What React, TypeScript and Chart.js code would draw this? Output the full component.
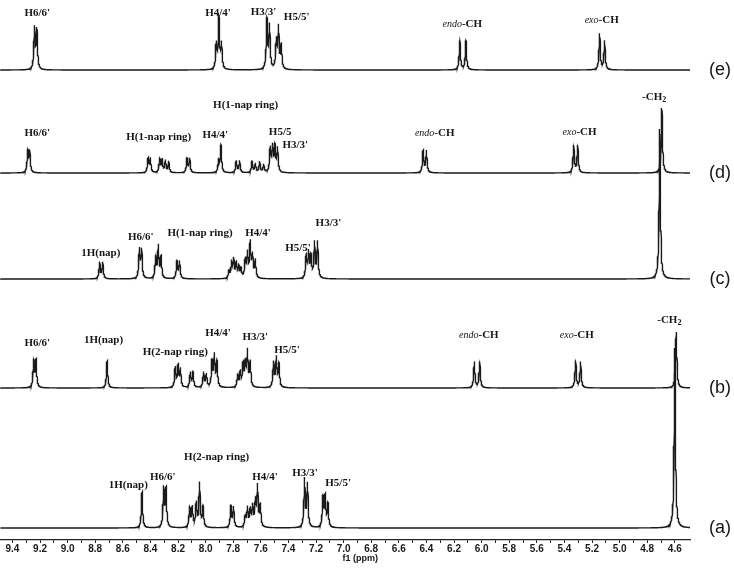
import { useEffect, useRef } from 'react';
import { Chart, registerables } from 'chart.js';

Chart.register(...registerables);

// ---------- axis ----------
const PPM_MIN = 4.49;
const PPM_MAX = 9.49;
const tickValues = [
  9.4, 9.3, 9.2, 9.1, 9.0, 8.9, 8.8, 8.7, 8.6, 8.5, 8.4, 8.3, 8.2, 8.1, 8.0, 7.9, 7.8, 7.7, 7.6, 7.5,
  7.4, 7.3, 7.2, 7.1, 7.0, 6.9, 6.8, 6.7, 6.6, 6.5, 6.4, 6.3, 6.2, 6.1, 6.0, 5.9, 5.8, 5.7, 5.6, 5.5,
  5.4, 5.3, 5.2, 5.1, 5.0, 4.9, 4.8, 4.7, 4.6,
];
const labelledTicks = [9.4, 9.2, 9.0, 8.8, 8.6, 8.4, 8.2, 8.0, 7.8, 7.6, 7.4, 7.2, 7.0, 6.8, 6.6, 6.4, 6.2, 6.0, 5.8, 5.6, 5.4, 5.2, 5.0, 4.8, 4.6];
const axisTitle = 'f1 (ppm)';

// ---------- spectra: [ppm, peak height] ----------
const peaksA = [
  [8.461, 36], [8.304, 39], [8.287, 38], [8.116, 20], [8.097, 20], [8.068, 24], [8.044, 44], [8.019, 20],
  [7.817, 21], [7.798, 20], [7.713, 11], [7.697, 19], [7.677, 17], [7.66, 20], [7.64, 25], [7.624, 40], [7.604, 22],
  [7.283, 48], [7.262, 43], [7.15, 29], [7.134, 30], [7.114, 23], [4.6, 180],
];
const peaksB = [
  [9.246, 27], [9.229, 27], [8.714, 27], [8.22, 20], [8.2, 21], [8.183, 18], [8.111, 15], [8.092, 15],
  [8.015, 15], [7.995, 13], [7.954, 25], [7.937, 31], [7.918, 25], [7.768, 12], [7.749, 15], [7.729, 22],
  [7.713, 23], [7.697, 35], [7.677, 25], [7.508, 25], [7.488, 29], [7.469, 23],
  [6.053, 26], [6.014, 26], [5.319, 27], [5.283, 26], [4.59, 56],
];
const peaksC = [
  [8.768, 16], [8.746, 16], [8.48, 29], [8.464, 28], [8.362, 21], [8.343, 32], [8.323, 21], [8.208, 17], [8.189, 17],
  [7.831, 7], [7.812, 16], [7.797, 18], [7.778, 15], [7.761, 12], [7.744, 9],
  [7.713, 18], [7.697, 24], [7.677, 35], [7.66, 22], [7.64, 18],
  [7.271, 23], [7.254, 25], [7.237, 21], [7.211, 35], [7.189, 36], [4.709, 150],
];
const peaksD = [
  [9.289, 21], [9.275, 21], [8.417, 14], [8.401, 14], [8.333, 14], [8.316, 12], [8.292, 12], [8.268, 11],
  [8.135, 14], [8.116, 14], [7.906, 12], [7.889, 27], [7.778, 12], [7.754, 12],
  [7.664, 11], [7.64, 9], [7.609, 11], [7.58, 8], [7.532, 24], [7.515, 25], [7.498, 25], [7.479, 24],
  [6.424, 22], [6.4, 22], [5.333, 27], [5.304, 27], [4.694, 65],
];
const peaksE = [
  [9.24, 41], [9.223, 39], [7.923, 25], [7.904, 50], [7.885, 25], [7.556, 49], [7.537, 43],
  [7.488, 28], [7.472, 41], [7.452, 24], [6.158, 29], [6.114, 29], [5.145, 36], [5.109, 29],
];

const spectrumNames = ['(a)', '(b)', '(c)', '(d)', '(e)'];
const spectrumPeaks = [peaksA, peaksB, peaksC, peaksD, peaksE];
const stackOffsets = [12, 152, 261, 367, 470];

// ---------- peak assignments: [ppm, height level, parts] ----------
type Part = [string, 'n' | 'i' | 's'];
const endo: Part[] = [['endo', 'i'], ['-CH', 'n']];
const exo: Part[] = [['exo', 'i'], ['-CH', 'n']];
const ch2: Part[] = [['-CH', 'n'], ['2', 's']];
const annotations: [number, number, Part[]][] = [
  // (e)
  [9.22, 527, [["H6/6'", 'n']]], [7.91, 527, [["H4/4'", 'n']]], [7.58, 528, [["H3/3'", 'n']]],
  [7.34, 523, [["H5/5'", 'n']]], [6.14, 516, endo], [5.13, 520, exo],
  // (d)
  [7.71, 435, [['H(1-nap ring)', 'n']]], [9.22, 407, [["H6/6'", 'n']]], [8.34, 403, [['H(1-nap ring)', 'n']]],
  [7.93, 405, [["H4/4'", 'n']]], [7.46, 408, [['H5/5', 'n']]], [7.35, 395, [["H3/3'", 'n']]],
  [6.34, 407, endo], [5.29, 408, exo], [4.75, 443, ch2],
  // (c)
  [8.76, 287, [['1H(nap)', 'n']]], [8.47, 303, [["H6/6'", 'n']]], [8.04, 307, [['H(1-nap ring)', 'n']]],
  [7.62, 307, [["H4/4'", 'n']]], [7.33, 292, [["H5/5'", 'n']]], [7.11, 317, [["H3/3'", 'n']]],
  // (b)
  [9.22, 197, [["H6/6'", 'n']]], [8.74, 200, [['1H(nap)', 'n']]], [8.22, 188, [['H(2-nap ring)', 'n']]],
  [7.91, 207, [["H4/4'", 'n']]], [7.64, 203, [["H3/3'", 'n']]], [7.41, 190, [["H5/5'", 'n']]],
  [6.02, 205, endo], [5.31, 205, exo], [4.64, 220, ch2],
  // (a)
  [8.56, 55, [['1H(nap)', 'n']]], [8.31, 63, [["H6/6'", 'n']]], [7.92, 83, [['H(2-nap ring)', 'n']]],
  [7.57, 63, [["H4/4'", 'n']]], [7.28, 67, [["H3/3'", 'n']]], [7.04, 57, [["H5/5'", 'n']]],
];

const LINE_HW = 0.0055;
const STEP = 0.001;

function buildSpectrum(peaks: number[][], offset: number) {
  const pts: { x: number; y: number }[] = [];
  const n = Math.round((PPM_MAX - PPM_MIN) / STEP);
  for (let i = 0; i <= n; i++) {
    const x = PPM_MIN + i * STEP;
    let y = 0;
    for (const [p, h] of peaks) {
      const d = x - p;
      y += (h * LINE_HW * LINE_HW) / (d * d + LINE_HW * LINE_HW);
    }
    pts.push({ x, y: offset + y });
  }
  return pts;
}

const fontFor = (s: string) =>
  s === 'i' ? 'italic 10px "Liberation Serif"' : s === 's' ? 'bold 8px "Liberation Serif"' : 'bold 11px "Liberation Serif"';

const labelPlugin = {
  id: 'nmrLabels',
  afterDatasetsDraw(chart: any) {
    const { ctx, scales, chartArea } = chart;
    const xs = scales.x;
    const ys = scales.y;
    ctx.save();
    ctx.fillStyle = '#161616';
    ctx.textBaseline = 'middle';
    ctx.textAlign = 'left';
    for (const [ppm, lvl, parts] of annotations) {
      let total = 0;
      const widths: number[] = [];
      for (const [t, s] of parts) {
        ctx.font = fontFor(s);
        const w = ctx.measureText(t).width;
        widths.push(w);
        total += w;
      }
      let px = xs.getPixelForValue(ppm) - total / 2;
      const py = ys.getPixelForValue(lvl);
      parts.forEach(([t, s], i) => {
        ctx.font = fontFor(s);
        ctx.fillText(t, px, s === 's' ? py + 3 : py);
        px += widths[i];
      });
    }
    ctx.font = '18px "Liberation Sans"';
    ctx.textAlign = 'center';
    spectrumNames.forEach((name, i) => {
      ctx.fillText(name, chartArea.right + 30, ys.getPixelForValue(stackOffsets[i]));
    });
    ctx.font = 'bold 9px "Liberation Sans"';
    ctx.fillText(axisTitle, xs.getPixelForValue(6.88), chartArea.bottom + 19);
    ctx.restore();
  },
};

export default function App() {
  const ref = useRef<HTMLCanvasElement | null>(null);
  useEffect(() => {
    if (!ref.current) return;
    const datasets = spectrumPeaks.map((pk, i) => ({
      label: spectrumNames[i],
      data: buildSpectrum(pk, stackOffsets[i]),
      borderColor: '#1a1a1a',
      borderWidth: 1.4,
      pointRadius: 0,
      tension: 0,
      fill: false,
    }));
    const chart = new Chart(ref.current, {
      type: 'line',
      data: { datasets },
      options: {
        animation: false,
        responsive: true,
        maintainAspectRatio: false,
        parsing: false,
        normalized: true,
        events: [],
        layout: { padding: { left: 0, right: 44, top: 0, bottom: 14 } },
        plugins: { legend: { display: false }, tooltip: { enabled: false } },
        scales: {
          x: {
            type: 'linear',
            reverse: true,
            min: PPM_MIN,
            max: PPM_MAX,
            afterBuildTicks: (scale: any) => {
              scale.ticks = tickValues.map((v) => ({ value: v }));
            },
            grid: { display: true, drawOnChartArea: false, drawTicks: true, tickLength: 3, color: '#222', lineWidth: 1 },
            border: { display: true, color: '#222', width: 1.3 },
            ticks: {
              autoSkip: false,
              maxRotation: 0,
              padding: 0,
              color: '#1a1a1a',
              font: { family: '"Liberation Sans"', size: 10, weight: 'bold' },
              callback: (v: any) => {
                const val = Number(v);
                return labelledTicks.some((t) => Math.abs(t - val) < 1e-6) ? val.toFixed(1) : '';
              },
            },
          },
          y: { type: 'linear', display: false, min: 0, max: 540 },
        },
      },
      plugins: [labelPlugin],
    } as any);
    return () => chart.destroy();
  }, []);
  return (
    <div style={{ position: 'absolute', left: 0, top: 0, width: 734, height: 569, background: '#fff' }}>
      <canvas ref={ref} />
    </div>
  );
}
